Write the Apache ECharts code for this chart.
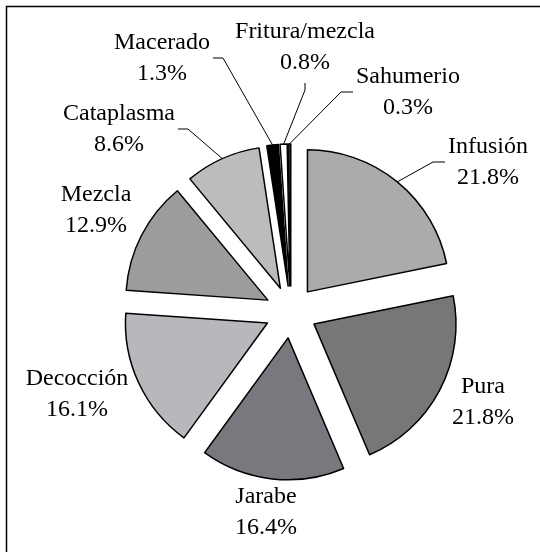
<!DOCTYPE html>
<html lang="es">
<head>
<meta charset="UTF-8">
<title>Formas de preparación</title>
<style>
  html, body { margin: 0; padding: 0; background: #fff; }
  #chart { width: 540px; height: 552px; }
</style>
</head>
<body>
<div id="chart"></div>
<script src="https://cdn.jsdelivr.net/npm/echarts@6/dist/echarts.min.js"></script>
<script>
// datos (porcentajes), en el sentido de las agujas del reloj desde arriba
var categories = ['Infusión', 'Pura', 'Jarabe', 'Decocción', 'Mezcla', 'Cataplasma', 'Macerado', 'Fritura/mezcla', 'Sahumerio'];
var percents = [21.8, 21.8, 16.4, 16.1, 12.9, 8.6, 1.3, 0.8, 0.3];

// estilo de cada porción
var sliceColors = ['#ababab', '#777777', '#78787f', '#b7b8bc', '#9c9c9e', '#bcbcbc', '#000000', '#ffffff', '#27277f'];

// geometría de la torta (px)
var PIE_X = 291, PIE_Y = 312, R = 142, OFFSET = 26;

// centro de cada etiqueta y lado por donde llega la línea guía
var labelPos = [[488, 162], [483, 402], [266, 512], [77, 394], [96, 210], [119, 129], [162, 58], [305, 47], [408, 92]];
var lineSide = ['left', null, null, null, null, 'right', 'right', 'bottom', 'left'];

var total = percents.reduce(function (a, b) { return a + b; }, 0);

function midAngle(i) {
    var before = 0;
    for (var k = 0; k < i; k++) before += percents[k];
    return (before + percents[i] / 2) / total * Math.PI * 2;
}

var chart = echarts.init(document.getElementById('chart'));

var pieData = categories.map(function (name, i) {
    return {
        name: name,
        value: percents[i],
        selected: true,
        itemStyle: { color: sliceColors[i] }
    };
});

var labelData = categories.map(function (name, i) {
    return {
        name: name,
        value: percents[i],
        labelLine: { show: lineSide[i] !== null }
    };
});

var option = {
    backgroundColor: '#fff',
    animation: false,
    graphic: [{
        type: 'rect',
        shape: { x: 6.5, y: 6.5, width: 560, height: 570 },
        style: { fill: 'none', stroke: '#000', lineWidth: 1.5 },
        silent: true
    }],
    series: [
        {
            type: 'pie',
            center: [PIE_X, PIE_Y],
            radius: R,
            startAngle: 90,
            clockwise: true,
            selectedMode: 'multiple',
            selectedOffset: OFFSET,
            silent: true,
            label: { show: false },
            labelLine: { show: false },
            itemStyle: { borderColor: '#000', borderWidth: 1.5 },
            select: { itemStyle: { borderColor: '#000', borderWidth: 1.5 } },
            emphasis: { disabled: true },
            data: pieData
        },
        {
            type: 'pie',
            center: [PIE_X, PIE_Y],
            radius: R,
            startAngle: 90,
            clockwise: true,
            silent: true,
            avoidLabelOverlap: false,
            itemStyle: { color: 'transparent', borderWidth: 0 },
            emphasis: { disabled: true },
            label: {
                show: true,
                position: 'outside',
                formatter: '{b}\n{c}%',
                color: '#000',
                fontFamily: '"Liberation Serif", "Times New Roman", serif',
                fontSize: 24,
                lineHeight: 31
            },
            labelLine: {
                show: false,
                lineStyle: { color: '#000', width: 1 }
            },
            labelLayout: function (p) {
                var i = p.dataIndex;
                var pos = labelPos[i];
                var w = p.labelRect.width, h = p.labelRect.height;
                var out = { x: pos[0], y: pos[1], align: 'center', verticalAlign: 'middle' };
                var side = lineSide[i];
                if (side) {
                    var a = midAngle(i);
                    var start = [PIE_X + (R + OFFSET) * Math.sin(a), PIE_Y - (R + OFFSET) * Math.cos(a)];
                    var end, bend;
                    if (side === 'left') {
                        end = [pos[0] - w / 2 - 3, pos[1]];
                        bend = [end[0] - 12, end[1]];
                    } else if (side === 'right') {
                        end = [pos[0] + w / 2 + 3, pos[1]];
                        bend = [end[0] + 10, end[1]];
                    } else {
                        end = [pos[0], pos[1] + h / 2 + 5];
                        bend = [end[0], end[1] + 7];
                    }
                    out.labelLinePoints = [start, bend, end];
                }
                return out;
            },
            data: labelData
        }
    ]
};

chart.setOption(option);
</script>
</body>
</html>
